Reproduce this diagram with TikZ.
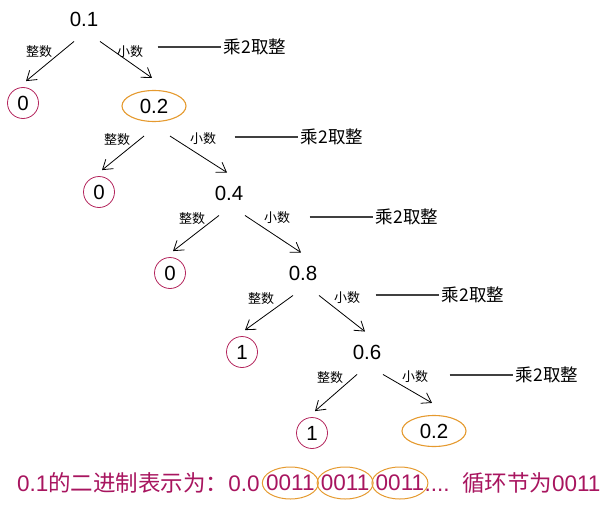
\documentclass[tikz,border=0pt]{standalone}
\usepackage{fontspec}
\setmainfont{Liberation Sans}
\newfontfamily\cjk{Noto Sans CJK SC}
\usetikzlibrary{arrows.meta,positioning,shapes.geometric}

\definecolor{ringred}{HTML}{B3245C}
\definecolor{ringorange}{HTML}{E59A2F}
\definecolor{summag}{HTML}{A8155F}

\tikzset{
	num/.style={font=\fontsize{20.5}{20.5}\selectfont, inner sep=1pt},
	bit/.style={num, circle, draw=ringred, line width=0.8pt, minimum size=31pt, inner sep=0pt},
	again/.style={num, ellipse, draw=ringorange, line width=1.1pt, minimum width=64pt, minimum height=31pt, inner sep=0pt},
	tag/.style={font=\cjk\fontsize{13}{13}\selectfont, inner sep=0pt},
	rule/.style={font=\cjk\fontsize{17.5}{17.5}\selectfont, inner sep=0pt},
	ruleline/.style={black!75, line width=1.1pt, shorten >=3pt},
	br/.style={-{Straight Barb[length=9pt,width=12pt]}, line width=0.8pt},
	sumtext/.style={font=\fontsize{22.5}{22.5}\selectfont, text=summag, inner sep=0pt},
	loopring/.style={ringorange, line width=1pt}
}

\begin{document}
\begin{tikzpicture}[x=1pt,y=-1pt]
	\useasboundingbox (0,0) rectangle (604,508);
	% numbers and digits
	\node[num] (n1) at (84,19) {0.1};
	\node[bit] (b1) at (23,103) {0};
	\node[again] (n2) at (154,106) {0.2};
	\node[bit] (b2) at (99,192) {0};
	\node[num] (n3) at (229,193) {0.4};
	\node[bit] (b3) at (170,273) {0};
	\node[num] (n4) at (303,273) {0.8};
	\node[bit] (b4) at (242,352) {1};
	\node[num] (n5) at (367,352) {0.6};
	\node[bit] (b5) at (312,433) {1};
	\node[again] (n6) at (434,431) {0.2};
	% branches
	\foreach \p/\l/\r in {n1/b1/n2, n2/b2/n3, n3/b3/n4, n4/b4/n5, n5/b5/n6} {
		\draw[br] ([shift={(-10pt,-14pt)}]\p.south) -- ([shift={(3pt,6pt)}]\l.north);
		\draw[br] ([shift={(16pt,-14pt)}]\p.south) -- ([shift={(-2pt,12pt)}]\r.north);
	}
	% labels
	\node[tag] (i1) at (39,52) {整数};
	\node[tag] (f1) at (130,52) {小数};
	\node[tag] (i2) at (117,140) {整数};
	\node[tag] (f2) at (203,139) {小数};
	\node[tag] (i3) at (192,219) {整数};
	\node[tag] (f3) at (277,218) {小数};
	\node[tag] (i4) at (261,299) {整数};
	\node[tag] (f4) at (347,298) {小数};
	\node[tag] (i5) at (330,378) {整数};
	\node[tag] (f5) at (415,377) {小数};
	% rules
	\node[rule] (r1) at (255,47) {乘2取整};
	\node[rule] (r2) at (332,137) {乘2取整};
	\node[rule] (r3) at (407,217) {乘2取整};
	\node[rule] (r4) at (473,295) {乘2取整};
	\node[rule] (r5) at (547,375) {乘2取整};
	\foreach \r in {r1,r2,r3,r4,r5}
		\draw[ruleline] ([xshift=-66pt]\r.west) -- (\r.west);
	% result
	\node[sumtext, anchor=west] (s1) at (17,483) {0.1{\cjk 的二进制表示为：}0.0};
	\node[sumtext, right=6pt of s1] (g1) {0011};
	\node[sumtext, right=6pt of g1] (g2) {0011};
	\node[sumtext, right=6pt of g2] (g3) {0011};
	\node[sumtext, right=0pt of g3] (s2) {....\ \ {\cjk 循环节为}0011};
	\foreach \g in {g1,g2,g3}
		\draw[loopring] (\g) ellipse (28pt and 16pt);
\end{tikzpicture}
\end{document}
